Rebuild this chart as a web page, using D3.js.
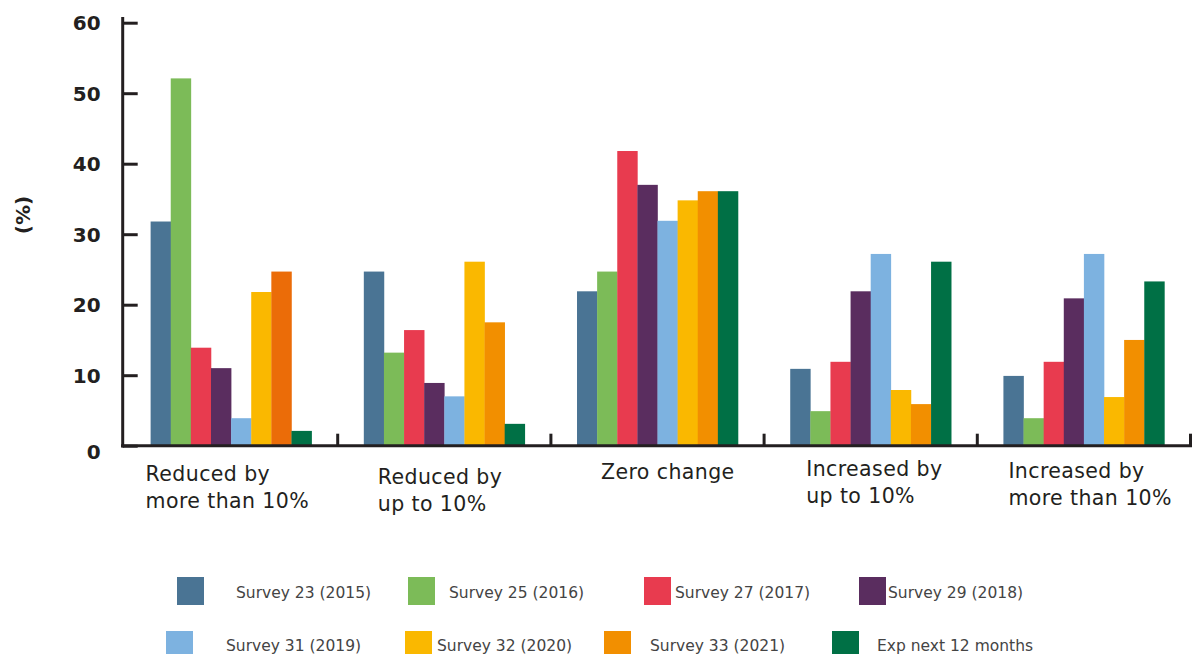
<!DOCTYPE html>
<html>
<head>
<meta charset="utf-8">
<script src="https://cdn.jsdelivr.net/npm/d3@7"></script>
<style>
    body { margin: 0; background: #fff; }
    svg { display: block; }
</style>
</head>
<body>
<svg id="chart" width="1192" height="654"></svg>
<script>
// data
const categories = ["Reduced by more than 10%", "Reduced by up to 10%", "Zero change", "Increased by up to 10%", "Increased by more than 10%"];
const categoryLines = [["Reduced by", "more than 10%"], ["Reduced by", "up to 10%"], ["Zero change"], ["Increased by", "up to 10%"], ["Increased by", "more than 10%"]];
const series = ["Survey 23 (2015)", "Survey 25 (2016)", "Survey 27 (2017)", "Survey 29 (2018)", "Survey 31 (2019)", "Survey 32 (2020)", "Survey 33 (2021)", "Exp next 12 months"];
const s23 = [31.8, 24.7, 21.9, 10.9, 9.9];
const s25 = [52.1, 13.2, 24.7, 4.9, 3.9];
const s27 = [13.9, 16.4, 41.8, 11.9, 11.9];
const s29 = [11.0, 8.9, 37.0, 21.9, 20.9];
const s31 = [3.9, 7.0, 31.9, 27.2, 27.2];
const s32 = [21.8, 26.1, 34.8, 7.9, 6.9];
const s33 = [24.7, 17.5, 36.1, 5.9, 15.0];
const sExp = [2.1, 3.1, 36.1, 26.1, 23.3];
const yTicks = [0, 10, 20, 30, 40, 50, 60];

const values = [s23, s25, s27, s29, s31, s32, s33, sExp];
const colors = ["#4A7494", "#7CBB58", "#E83B4F", "#5A2D5F", "#7DB2E0", "#FAB800", "#F28F00", "#007045"];

const svg = d3.select("#chart");
const font = "DejaVu Sans";

const x0 = d3.scaleBand().domain(categories).range([124.5, 1190.5]).paddingInner(0.245).paddingOuter(0.1225);
const x1 = d3.scaleBand().domain(series).range([0, x0.bandwidth()]);
const y = d3.scaleLinear().domain([0, 60]).range([445.7, 22.7]);

// bars
const rows = [];
categories.forEach((c, ci) => {
    series.forEach((s, si) => rows.push({cat: c, ci: ci, s: s, si: si, v: values[si][ci]}));
});
svg.append("g").selectAll("rect")
    .data(rows)
    .enter().append("rect")
    .attr("x", d => x0(d.cat) + x1(d.s))
    .attr("y", d => y(d.v))
    .attr("width", x1.bandwidth() + 0.3)
    .attr("height", d => y(0) - y(d.v))
    .attr("fill", d => (d.ci === 0 && d.si === 6) ? "#EB6C08" : colors[d.si]);

// y axis
const yAxis = d3.axisLeft(y).tickValues(yTicks).tickSize(-15).tickPadding(22);
const gy = svg.append("g").attr("transform", "translate(122.7,0)").call(yAxis);
gy.select(".domain").remove();
gy.selectAll(".tick line").attr("stroke", "#231F20").attr("stroke-width", 3);
gy.selectAll(".tick text")
    .attr("font-family", font).attr("font-weight", "bold").attr("font-size", 20)
    .attr("fill", "#231F20")
    .attr("dy", d => d === 0 ? "0.65em" : "0.36em");
svg.append("line").attr("x1", 122.7).attr("x2", 122.7).attr("y1", 17).attr("y2", 447.5)
    .attr("stroke", "#231F20").attr("stroke-width", 3);

svg.append("text")
    .attr("transform", "translate(30,215) rotate(-90)")
    .attr("text-anchor", "middle")
    .attr("font-family", font).attr("font-weight", "bold").attr("font-size", 20)
    .attr("fill", "#231F20")
    .text("(%)");

// x axis baseline and category ticks
svg.append("line").attr("x1", 121).attr("x2", 1192).attr("y1", y(0)).attr("y2", y(0))
    .attr("stroke", "#231F20").attr("stroke-width", 3);
const halfGap = x0.step() * x0.paddingInner() / 2;
svg.append("g").selectAll("line")
    .data(categories)
    .enter().append("line")
    .attr("x1", d => x0(d) + x0.bandwidth() + halfGap)
    .attr("x2", d => x0(d) + x0.bandwidth() + halfGap)
    .attr("y1", y(0)).attr("y2", y(0) - 12)
    .attr("stroke", "#231F20").attr("stroke-width", 3);

// category labels
const labelDx = [-5, 14, 24, 16, 5];
const labelY = [481, 484, 479, 476, 478];
categories.forEach((c, i) => {
    const t = svg.append("text")
        .attr("font-family", font).attr("font-size", 20.5).attr("letter-spacing", 0.4)
        .attr("fill", "#231F20");
    categoryLines[i].forEach((line, li) => {
        t.append("tspan")
            .attr("x", x0(c) + labelDx[i])
            .attr("y", labelY[i] + li * 27)
            .text(line);
    });
});

// legend
const swatchX = [177, 408, 644, 859, 166, 405, 604, 832];
const textX = [236, 449, 675, 888, 226, 437, 650, 877];
const leg = svg.append("g").selectAll("g")
    .data(series)
    .enter().append("g");
leg.append("rect")
    .attr("x", (d, i) => swatchX[i])
    .attr("y", (d, i) => i < 4 ? 577 : 631)
    .attr("width", 27).attr("height", 28)
    .attr("fill", (d, i) => colors[i]);
leg.append("text")
    .attr("x", (d, i) => textX[i])
    .attr("y", (d, i) => i < 4 ? 598 : 651)
    .attr("font-family", font).attr("font-size", 15.5).attr("fill", "#444")
    .text(d => d);
</script>
</body>
</html>
